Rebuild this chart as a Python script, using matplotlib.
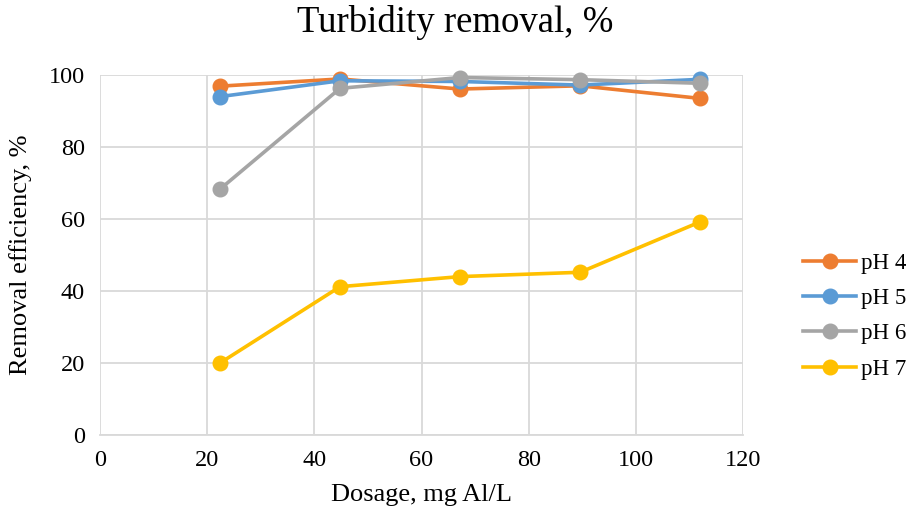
import matplotlib.pyplot as plt

plt.rcParams['font.family'] = ['Liberation Serif', 'DejaVu Serif']

dosage = [22.4, 44.8, 67.2, 89.6, 112]
ph4 = [96.9, 98.9, 96.1, 97.0, 93.5]
ph5 = [94.0, 98.4, 98.2, 97.2, 98.8]
ph6 = [68.3, 96.3, 99.3, 98.7, 97.7]
ph7 = [20.0, 41.2, 44.0, 45.2, 59.2]
labels = ['pH 4', 'pH 5', 'pH 6', 'pH 7']
colors = ['#ED7D31', '#5B9BD5', '#A5A5A5', '#FFC000']

fig = plt.figure(figsize=(9.10, 5.16), dpi=100)
ax = fig.add_axes([100 / 910, 1 - 435 / 516, 643 / 910, 360 / 516])

for series, lab, col in zip([ph4, ph5, ph6, ph7], labels, colors):
    ax.plot(dosage, series, color=col, lw=2.6, marker='o', ms=10.5,
            label=lab, clip_on=False, zorder=3)

ax.set_xlim(0, 120)
ax.set_ylim(0, 100)
ax.set_xticks(range(0, 121, 20))
ax.set_yticks(range(0, 101, 20))
ax.grid(color='#D9D9D9', lw=1.3)
ax.set_axisbelow(True)
for side in ['top', 'right', 'left']:
    ax.spines[side].set_visible(False)
ax.spines['bottom'].set_color('#D9D9D9')
ax.spines['bottom'].set_linewidth(1.3)
ax.tick_params(length=0, labelsize=17.5, pad=11)

ax.set_xlabel('Dosage, mg Al/L', fontsize=19, labelpad=9)
ax.set_ylabel('Removal efficiency, %', fontsize=19, labelpad=12)
fig.suptitle('Turbidity removal, %', fontsize=26.5, y=0.99)

ax.legend(loc='center left', bbox_to_anchor=(1.062, 0.33), frameon=False,
          fontsize=16.5, handlelength=2.3, labelspacing=0.62, handletextpad=0.2)

fig.savefig('out.png', dpi=100)
